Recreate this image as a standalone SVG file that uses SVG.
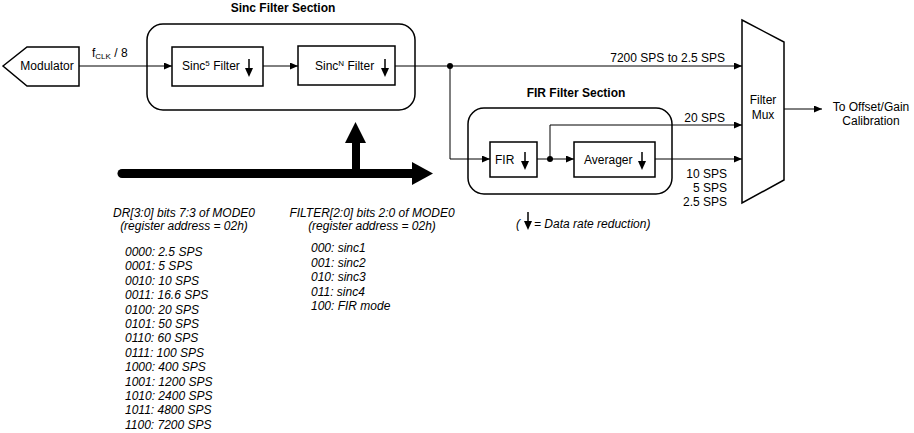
<svg xmlns="http://www.w3.org/2000/svg" width="914" height="433" viewBox="0 0 914 433">
<style>
  text { font-family: "Liberation Sans", Arial, sans-serif; font-size: 12px; fill: #000; }
  .b { font-weight: bold; }
  .i { font-style: italic; }
  .mid { text-anchor: middle; }
  .end { text-anchor: end; }
  .box { fill: #fff; stroke: #000; stroke-width: 1.5; }
  .sec { fill: none; stroke: #000; stroke-width: 1.5; }
  .ln { fill: none; stroke: #000; stroke-width: 1; }
  .thick { fill: none; stroke: #000; stroke-width: 9; }
</style>
<defs>
  <marker id="ah" markerUnits="userSpaceOnUse" markerWidth="9" markerHeight="7" refX="8" refY="3.5" orient="auto">
    <path d="M0,0 L8,3.5 L0,7 z" fill="#000"/>
  </marker>
  <g id="down">
    <line x1="0" y1="0" x2="0" y2="10" stroke="#000" stroke-width="1.5"/>
    <path d="M-4,9 L4,9 L0,18 z" fill="#000"/>
  </g>
</defs>
<rect width="914" height="433" fill="#fff"/>

<g id="sinc-section">
  <rect class="sec" x="147" y="24" width="268" height="86" rx="16"/>
  <text class="b mid" x="283" y="12">Sinc Filter Section</text>
</g>
<g id="fir-section">
  <rect class="sec" x="468" y="108" width="204" height="86" rx="16"/>
  <text class="b mid" x="576" y="97">FIR Filter Section</text>
</g>

<g id="connectors">
  <line class="ln" x1="79" y1="66" x2="172" y2="66" marker-end="url(#ah)"/>
  <line class="ln" x1="263" y1="66" x2="298" y2="66" marker-end="url(#ah)"/>
  <line class="ln" x1="395" y1="66" x2="742" y2="66" marker-end="url(#ah)"/>
  <polyline class="ln" points="450,66 450,159 490,159" marker-end="url(#ah)"/>
  <line class="ln" x1="537" y1="159" x2="574" y2="159" marker-end="url(#ah)"/>
  <polyline class="ln" points="550,159 550,125 742,125" marker-end="url(#ah)"/>
  <line class="ln" x1="655" y1="159" x2="742" y2="159" marker-end="url(#ah)"/>
  <line class="ln" x1="784" y1="109" x2="822" y2="109" marker-end="url(#ah)"/>
  <circle cx="450" cy="66" r="3" fill="#000"/>
  <circle cx="550" cy="159" r="3" fill="#000"/>
</g>

<g id="modulator">
  <polygon class="box" points="3,66 27,47 79,47 79,86 27,86"/>
  <text class="mid" x="47" y="70">Modulator</text>
</g>
<g id="fclk-label">
  <text x="92" y="57">f<tspan font-size="8" dy="2">CLK</tspan><tspan dy="-2"> / 8</tspan></text>
</g>

<g id="sinc5">
  <rect class="box" x="172" y="47" width="91" height="39"/>
  <text x="182" y="70">Sinc<tspan font-size="8" dy="-4">5</tspan><tspan dy="4"> Filter</tspan></text>
  <use href="#down" x="249" y="59"/>
</g>
<g id="sincN">
  <rect class="box" x="298" y="46" width="97" height="39"/>
  <text x="315" y="70">Sinc<tspan font-size="8" dy="-4">N</tspan><tspan dy="4"> Filter</tspan></text>
  <use href="#down" x="385" y="59"/>
</g>

<g id="fir">
  <rect class="box" x="490" y="142" width="47" height="35"/>
  <text x="495" y="164">FIR</text>
  <use href="#down" x="525" y="152"/>
</g>
<g id="averager">
  <rect class="box" x="574" y="142" width="81" height="35"/>
  <text x="584" y="164">Averager</text>
  <use href="#down" x="642" y="152"/>
</g>

<g id="filter-mux">
  <polygon class="box" points="742,20 784,42 784,180 742,203"/>
  <text class="mid" x="763" y="104">Filter</text>
  <text class="mid" x="763" y="119">Mux</text>
</g>

<g id="output">
  <text class="mid" x="871" y="110.5">To Offset/Gain</text>
  <text class="mid" x="871" y="124.5">Calibration</text>
</g>

<g id="rate-labels">
  <text class="end" x="725" y="62">7200 SPS to 2.5 SPS</text>
  <text class="end" x="725" y="122">20 SPS</text>
  <text class="end" x="727" y="178">10 SPS</text>
  <text class="end" x="727" y="192">5 SPS</text>
  <text class="end" x="727" y="206">2.5 SPS</text>
</g>

<g id="legend">
  <text class="i" x="516" y="228">(</text>
  <use href="#down" x="528" y="212"/>
  <text class="i" x="534" y="228">= Data rate reduction)</text>
</g>

<g id="control-bus">
  <line class="thick" x1="122" y1="173.5" x2="414" y2="173.5" stroke-linecap="round"/>
  <polygon points="412,162 433,173.5 412,185" fill="#000"/>
  <line x1="356" y1="173.5" x2="356" y2="141" stroke="#000" stroke-width="8"/>
  <polygon points="345,143 355.5,122 366,143" fill="#000"/>
</g>

<g id="dr-register">
  <text class="i mid" x="184" y="217">DR[3:0] bits 7:3 of MODE0</text>
  <text class="i mid" x="184" y="230">(register address = 02h)</text>
  <text class="i" x="125" y="256">0000: 2.5 SPS</text>
  <text class="i" x="125" y="270.4">0001: 5 SPS</text>
  <text class="i" x="125" y="284.8">0010: 10 SPS</text>
  <text class="i" x="125" y="299.2">0011: 16.6 SPS</text>
  <text class="i" x="125" y="313.6">0100: 20 SPS</text>
  <text class="i" x="125" y="328">0101: 50 SPS</text>
  <text class="i" x="125" y="342.4">0110: 60 SPS</text>
  <text class="i" x="125" y="356.8">0111: 100 SPS</text>
  <text class="i" x="125" y="371.2">1000: 400 SPS</text>
  <text class="i" x="125" y="385.6">1001: 1200 SPS</text>
  <text class="i" x="125" y="400">1010: 2400 SPS</text>
  <text class="i" x="125" y="414.4">1011: 4800 SPS</text>
  <text class="i" x="125" y="428.8">1100: 7200 SPS</text>
</g>

<g id="filter-register">
  <text class="i mid" x="372" y="217">FILTER[2:0] bits 2:0 of MODE0</text>
  <text class="i mid" x="372" y="230">(register address = 02h)</text>
  <text class="i" x="311" y="252">000: sinc1</text>
  <text class="i" x="311" y="266.5">001: sinc2</text>
  <text class="i" x="311" y="281">010: sinc3</text>
  <text class="i" x="311" y="295.5">011: sinc4</text>
  <text class="i" x="311" y="310">100: FIR mode</text>
</g>
</svg>
